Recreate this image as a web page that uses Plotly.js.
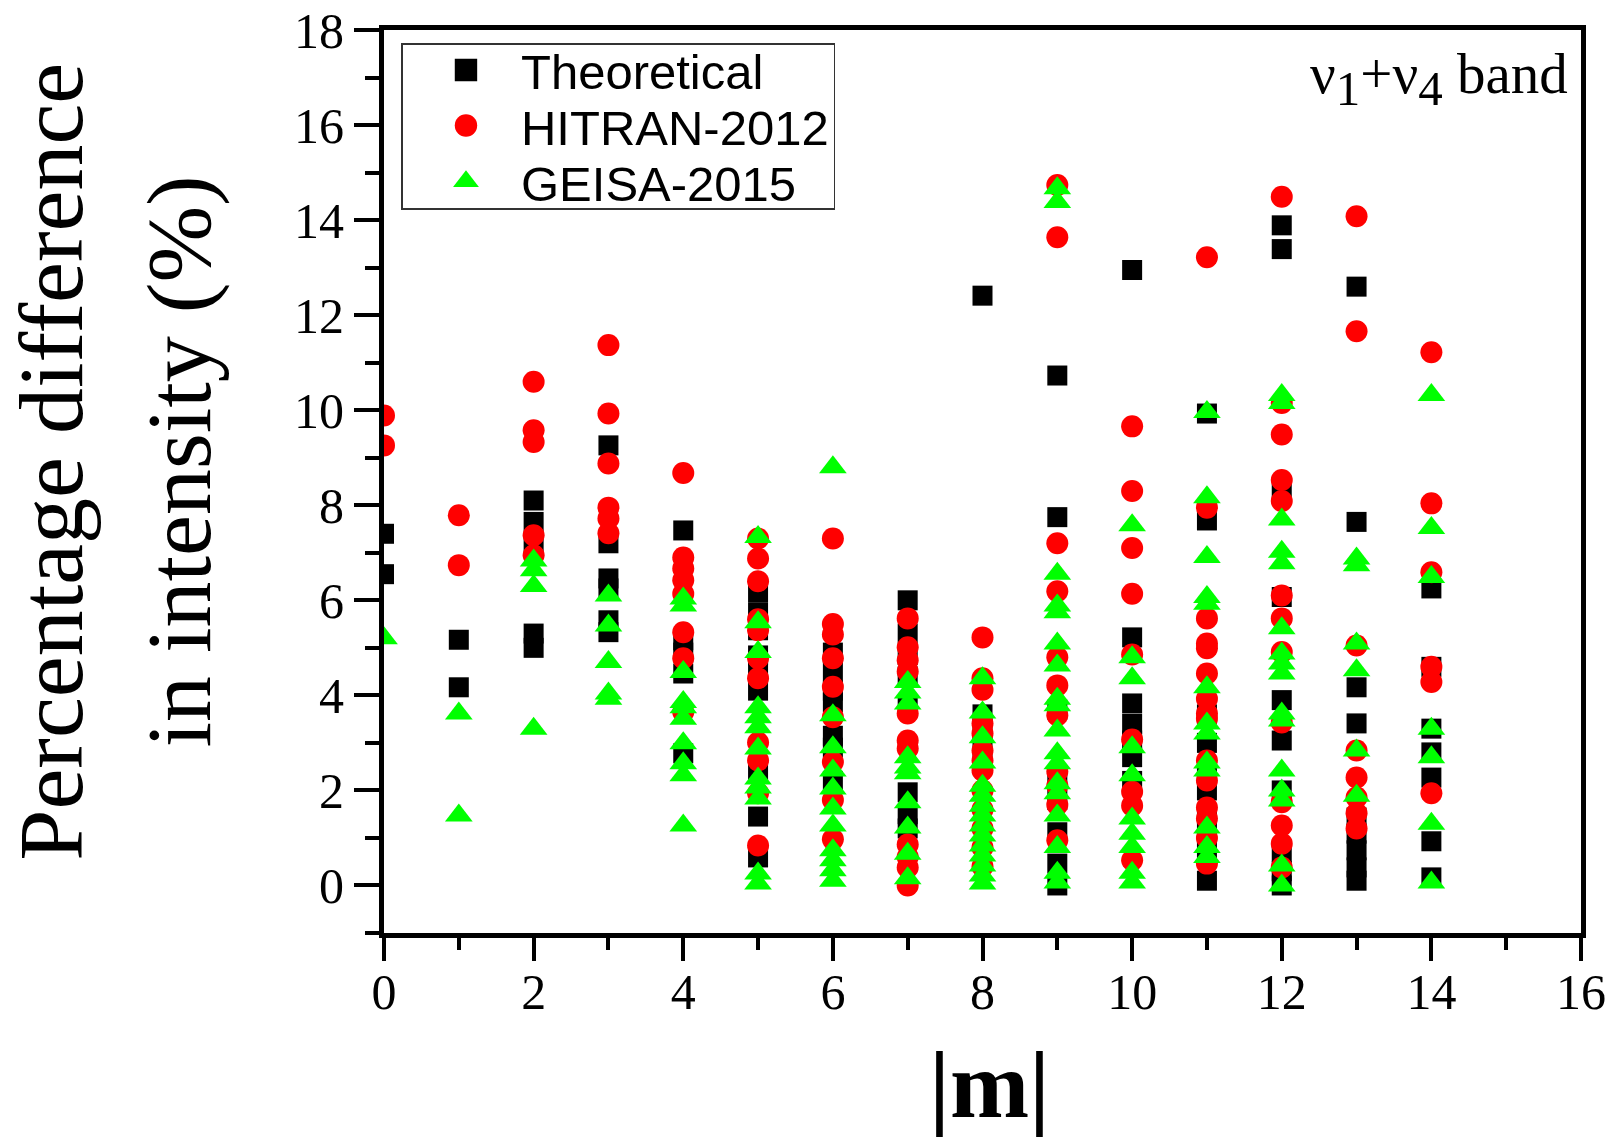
<!DOCTYPE html>
<html>
<head>
<meta charset="utf-8">
<script src="https://cdn.plot.ly/plotly-3.0.1.min.js"></script>
<style>
  html, body { margin: 0; padding: 0; background: #ffffff; }
  #chart { width: 1614px; height: 1137px; }
</style>
</head>
<body>
<div id="chart"></div>
<script>
// |m| values of the line groups
const mValues = [0, 1, 2, 3, 4, 5, 6, 7, 8, 9, 10, 11, 12, 13, 14];

// Percentage differences in intensity (%), one list per |m|
const theoretical = [
  [7.40, 6.55],
  [5.17, 4.17],
  [8.10, 7.65, 7.20, 5.30, 5.00],
  [9.26, 7.20, 6.46, 6.25, 5.58, 5.33],
  [7.47, 5.16, 4.90, 4.46, 2.78],
  [6.17, 5.75, 5.37, 4.84, 4.60, 4.10, 2.42, 1.45, 0.59],
  [4.90, 4.50, 4.10, 3.85, 3.15, 2.90, 2.20],
  [6.00, 5.30, 4.85, 4.40, 3.80, 1.96, 1.50, 1.20],
  [12.41, 3.60, 3.30, 2.90],
  [10.73, 7.75, 3.70, 2.30, 1.80, 1.12, 0.46, 0.00],
  [12.95, 5.22, 3.83, 3.40, 3.05, 2.70, 2.20],
  [9.93, 7.68, 3.60, 3.00, 2.40, 2.00, 1.50, 1.10, 0.70, 0.10],
  [13.89, 13.39, 8.25, 6.07, 3.90, 3.05, 2.00, 0.70, 0.30, 0.00],
  [12.60, 7.65, 4.17, 3.41, 1.43, 1.09, 0.74, 0.38, 0.10],
  [6.25, 4.60, 3.30, 2.80, 2.27, 0.93, 0.17]
];

const hitran2012 = [
  [9.89, 9.26],
  [7.79, 6.74],
  [10.60, 9.58, 9.33, 7.37, 6.95],
  [11.37, 9.93, 8.88, 7.95, 7.72, 7.41],
  [8.68, 6.90, 6.67, 6.42, 6.14, 5.33, 4.78, 3.65],
  [7.30, 6.88, 6.40, 5.60, 5.37, 4.78, 4.36, 3.01, 2.63, 1.94, 0.84],
  [7.30, 5.50, 5.28, 4.78, 4.18, 3.54, 2.60, 1.80, 0.97],
  [5.62, 5.01, 4.74, 4.50, 3.62, 3.05, 2.88, 0.86, 0.60, 0.38, 0.00],
  [5.22, 4.36, 4.12, 3.41, 3.20, 2.84, 2.63, 2.42, 2.00, 1.60, 1.20, 0.80, 0.40],
  [14.74, 13.64, 7.20, 6.19, 4.80, 4.21, 3.58, 2.40, 2.10, 1.70, 0.95],
  [9.66, 8.30, 7.10, 6.14, 4.86, 3.07, 1.97, 1.68, 0.53],
  [13.22, 7.95, 5.62, 5.09, 4.99, 4.46, 3.93, 3.62, 3.51, 2.63, 2.21, 1.64, 1.41, 1.00, 0.46],
  [14.49, 10.15, 9.49, 8.53, 8.09, 6.10, 5.62, 4.91, 3.43, 1.75, 1.26, 0.88, 0.38],
  [14.08, 11.66, 5.05, 2.84, 2.27, 1.85, 1.52, 1.20],
  [11.22, 8.04, 6.59, 4.60, 4.28, 1.94]
];

const geisa2015 = [
  [5.20],
  [3.62, 1.47],
  [6.84, 6.63, 6.30, 3.30],
  [6.10, 5.47, 4.70, 4.04, 3.93],
  [6.04, 5.89, 4.49, 3.86, 3.75, 3.51, 2.99, 2.57, 2.32, 1.26],
  [7.33, 5.54, 4.91, 3.75, 3.54, 3.33, 2.88, 2.25, 2.06, 1.83, 0.25, 0.04],
  [8.80, 3.58, 2.91, 2.42, 2.04, 1.62, 1.26, 0.74, 0.53, 0.32, 0.10],
  [4.28, 4.06, 3.83, 2.70, 2.48, 2.36, 1.75, 1.22, 0.67, 0.15],
  [4.36, 3.64, 3.12, 2.59, 2.10, 1.89, 1.68, 1.47, 1.26, 1.05, 0.84, 0.63, 0.42, 0.21, 0.04],
  [14.67, 14.38, 6.56, 5.89, 5.75, 5.09, 4.63, 3.93, 3.79, 3.26, 2.78, 2.57, 2.15, 1.94, 1.47, 0.81, 0.27, 0.06],
  [7.58, 4.80, 4.36, 2.91, 2.32, 1.41, 1.09, 0.81, 0.27, 0.06],
  [9.96, 8.17, 6.91, 6.07, 5.93, 4.17, 3.41, 3.20, 2.59, 2.42, 1.22, 0.81, 0.60],
  [10.32, 10.15, 7.70, 7.02, 6.78, 5.41, 4.88, 4.67, 4.46, 3.62, 3.47, 2.42, 2.00, 1.79, 0.42, 0.00],
  [6.88, 6.74, 5.09, 4.53, 2.84, 1.89],
  [10.32, 7.52, 6.49, 3.30, 2.70, 1.30, 0.06]
];

const seriesNames = ['Theoretical', 'HITRAN-2012', 'GEISA-2015'];
const xTickLabels = ['0', '2', '4', '6', '8', '10', '12', '14', '16'];
const yTickLabels = ['0', '2', '4', '6', '8', '10', '12', '14', '16', '18'];

// flatten the per-|m| lists into x/y pairs
function flatten(groups) {
  const x = [], y = [];
  groups.forEach((vals, i) => vals.forEach(v => { x.push(mValues[i]); y.push(v); }));
  return { x, y };
}

const styles = [
  { symbol: 'square', color: '#000000', size: 20 },
  { symbol: 'circle', color: '#ff0000', size: 22 },
  { symbol: 'triangle-up', color: '#00ff00', size: 24 }
];

const traces = [theoretical, hitran2012, geisa2015].map((groups, k) => {
  const d = flatten(groups);
  return {
    type: 'scatter',
    mode: 'markers',
    name: seriesNames[k],
    x: d.x,
    y: d.y,
    marker: { symbol: styles[k].symbol, color: styles[k].color, size: styles[k].size, line: { width: 0 } }
  };
});

const serif = 'Liberation Serif, Times New Roman, serif';
const sans = 'Liberation Sans, Arial, sans-serif';

const layout = {
  width: 1614,
  height: 1137,
  margin: { l: 384, r: 33, t: 30, b: 204 },
  paper_bgcolor: '#ffffff',
  plot_bgcolor: '#ffffff',
  showlegend: true,
  legend: {
    x: 0.0146, y: 0.9856, xanchor: 'left', yanchor: 'top',
    bgcolor: '#ffffff', bordercolor: '#333333', borderwidth: 1.5,
    font: { family: sans, size: 49, color: '#000000' },
    itemwidth: 100, indentation: 8, tracegroupgap: 0
  },
  xaxis: {
    range: [0, 16],
    tickmode: 'array',
    tickvals: xTickLabels.map(Number),
    ticktext: xTickLabels,
    ticks: 'outside', ticklen: 23, tickwidth: 4, tickcolor: '#000000',
    minor: { dtick: 1, tick0: 0, ticks: 'outside', ticklen: 12, tickwidth: 4, tickcolor: '#000000', showgrid: false },
    showline: true, linewidth: 5, linecolor: '#000000', mirror: true,
    showgrid: false, zeroline: false,
    tickfont: { family: serif, size: 50, color: '#000000' },
    ticklabelstandoff: -12
  },
  yaxis: {
    range: [-1, 18],
    tickmode: 'array',
    tickvals: yTickLabels.map(Number),
    ticktext: yTickLabels,
    ticks: 'outside', ticklen: 25, tickwidth: 4, tickcolor: '#000000',
    minor: { dtick: 1, tick0: 1, ticks: 'outside', ticklen: 14, tickwidth: 4, tickcolor: '#000000', showgrid: false },
    showline: true, linewidth: 5, linecolor: '#000000', mirror: true,
    showgrid: false, zeroline: false,
    tickfont: { family: serif, size: 50, color: '#000000' },
    ticklabelstandoff: 0
  },
  annotations: [
    {
      xref: 'paper', yref: 'paper', x: -0.2782, y: 0.522,
      xanchor: 'center', yanchor: 'middle', textangle: -90, showarrow: false,
      text: 'Percentage difference',
      font: { family: serif, size: 92, color: '#000000' }
    },
    {
      xref: 'paper', yref: 'paper', x: -0.1713, y: 0.522,
      xanchor: 'center', yanchor: 'middle', textangle: -90, showarrow: false,
      text: 'in intensity (%)',
      font: { family: serif, size: 92, color: '#000000' }
    },
    {
      xref: 'paper', yref: 'paper', x: 0.506, y: -0.168,
      xanchor: 'center', yanchor: 'middle', showarrow: false,
      text: '<b>|m|</b>',
      font: { family: serif, size: 95, color: '#000000' }
    },
    {
      xref: 'paper', yref: 'paper', x: 0.9908, y: 0.946,
      xanchor: 'right', yanchor: 'middle', showarrow: false,
      text: 'ν<sub><span style="font-size:49px">1</span></sub>+ν<sub><span style="font-size:49px">4</span></sub> band',
      font: { family: serif, size: 57, color: '#000000' }
    }
  ]
};

Plotly.newPlot('chart', traces, layout, { staticPlot: true }).then(gd => {
  const legend = gd.querySelector('.legend');
  if (!legend) return;
  // enlarge legend keys to the size of the plotted symbols
  legend.querySelectorAll('.legendpoints path.scatterpts').forEach(p => {
    const t = p.getAttribute('transform') || '';
    p.setAttribute('transform', t + ' scale(1.4)');
  });
  // tighter row spacing inside the legend box
  const rowCenters = [27, 82.5, 138.5];
  legend.querySelectorAll('g.traces').forEach((g, i) => {
    const m = /translate\(\s*([-\d.]+)[ ,]+([-\d.]+)\s*\)/.exec(g.getAttribute('transform') || '');
    if (m && i < rowCenters.length) g.setAttribute('transform', 'translate(' + m[1] + ',' + rowCenters[i] + ')');
  });
  const bg = legend.querySelector('rect.bg');
  if (bg) bg.setAttribute('height', 165);
});
</script>
</body>
</html>
